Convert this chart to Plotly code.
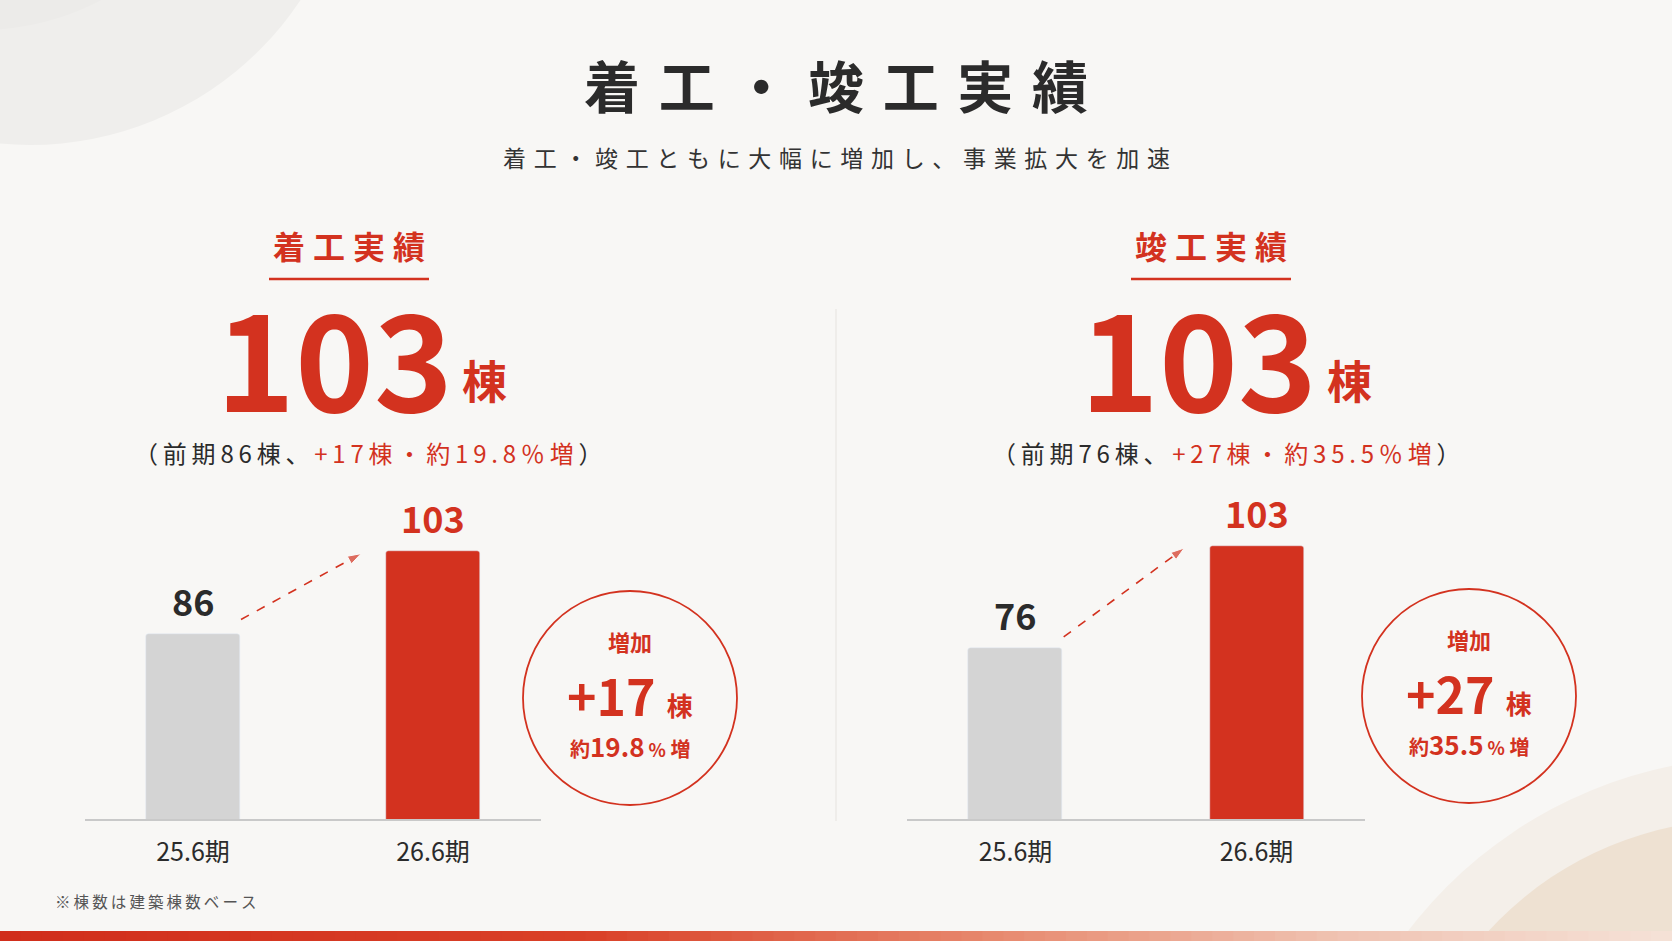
import numpy as np
import plotly.graph_objects as go

W, H = 1672, 941

# --- data ---
periods = ["25.6期", "26.6期"]
panel_titles = ["着工実績", "竣工実績"]
prev_counts = [86, 76]
curr_counts = [103, 103]
unit = "棟"

title = "着工・竣工実績"
subtitle = "着工・竣工ともに大幅に増加し、事業拡大を加速"
footnote = "※棟数は建築棟数ベース"

RED = "#d3321f"
GRAY_BAR = "#d4d4d4"
DARK = "#2b2b2b"
BG = "#f8f7f5"
FONT = "Noto Sans CJK JP"


def px(x, y):
    # pixel position -> paper coords
    return x / W, 1 - y / H


def spaced(s, sp="\u2005"):
    return sp.join(s)


def note(text, x, y, size, color, **kw):
    # centred text at a pixel position
    px_, py_ = px(x, y)
    d = dict(text=text, x=px_, y=py_, xref="paper", yref="paper", showarrow=False,
             xanchor="center", yanchor="middle",
             font=dict(size=size, color=color, family=FONT))
    if "weight" in kw:
        d["font"]["weight"] = kw.pop("weight")
    d.update(kw)
    return d


# where each panel sits on the page (pixels)
geo = [
    dict(x0=85, x1=541, head=349, big=334, bigu=485, sub=368, circ=(630, 698), yr=(48.1, 125.8)),
    dict(x0=907, x1=1365, head=1211, big=1198, bigu=1349, sub=1226, circ=(1469, 696), yr=(30.8, 131.1)),
]
ydom = [1 - 819 / H, 1 - 440 / H]

fig = go.Figure()
shapes = []
annos = []

# background blobs
def circ_shape(cx, cy, r, fill, line=None):
    x0, y0 = px(cx - r, cy + r)
    x1, y1 = px(cx + r, cy - r)
    return dict(type="circle", xref="paper", yref="paper", x0=x0, y0=y0, x1=x1, y1=y1,
                fillcolor=fill, line=line or dict(width=0), layer="below")

shapes.append(circ_shape(30, -180, 325, "#efeeec"))
shapes.append(circ_shape(-20, -230, 260, "#ecebe9"))
shapes.append(circ_shape(1760, 1200, 443, "#f4efe9"))
shapes.append(circ_shape(1740, 1160, 340, "#eee1d2"))

# bottom gradient band
stops = [(0, (209, 46, 28)), (0.35, (218, 65, 40)), (0.6, (232, 139, 112)),
         (0.8, (240, 195, 178)), (1, (246, 226, 216))]
n_seg = 80
for i in range(n_seg):
    t = (i + 0.5) / n_seg
    for (a, ca), (b, cb) in zip(stops[:-1], stops[1:]):
        if a <= t <= b:
            f = (t - a) / (b - a)
            c = tuple(int(ca[k] + (cb[k] - ca[k]) * f) for k in range(3))
            break
    x0, y0 = px(W * i / n_seg, 941)
    x1, y1 = px(W * (i + 1) / n_seg + 1, 931)
    shapes.append(dict(type="rect", xref="paper", yref="paper", x0=x0, x1=x1, y0=y0, y1=y1,
                       fillcolor="rgb(%d,%d,%d)" % c, line=dict(width=0), layer="below"))

# divider
dx, dy0 = px(836, 309)
_, dy1 = px(836, 821)
shapes.append(dict(type="line", xref="paper", yref="paper", x0=dx, x1=dx, y0=dy0, y1=dy1,
                   line=dict(color="#e6e3df", width=1)))

# headings
annos.append(note("<b>" + spaced(title, "\u2004") + "</b>", 836, 83, 56, DARK))
annos.append(note(spaced(subtitle, "\u2004"), 836, 157, 23, "#333333"))
annos.append(note(spaced(footnote, "\u2009"), 53, 901, 15.5, "#555555", xanchor="left"))

for i, g in enumerate(geo):
    prev, cur = prev_counts[i], curr_counts[i]
    diff = cur - prev
    pct = diff / prev * 100
    xa = "x" if i == 0 else "x%d" % (i + 1)
    ya = "y" if i == 0 else "y%d" % (i + 1)
    xpos = list(range(len(periods)))

    fig.add_trace(go.Bar(x=xpos, y=[prev, cur], xaxis=xa, yaxis=ya, width=0.39,
                         marker=dict(color=[GRAY_BAR, RED], cornerradius=3),
                         hoverinfo="skip", showlegend=False))
    # dashed arrow
    fig.add_trace(go.Scatter(x=[0.2, 0.7], y=[prev + 3, cur - 0.5], xaxis=xa, yaxis=ya,
                             mode="lines+markers", hoverinfo="skip", showlegend=False,
                             line=dict(color=RED, width=1.6, dash="dash"),
                             marker=dict(symbol=["circle", "arrow"], size=[0, 14],
                                         angleref="previous", color=RED)))

    lay_x = dict(domain=[g["x0"] / W, g["x1"] / W], range=[-0.45, 1.45],
                 tickvals=xpos, ticktext=periods, showline=True, linecolor="#c9c9c9",
                 linewidth=2, showgrid=False, zeroline=False, ticks="",
                 ticklabelstandoff=10, tickfont=dict(size=25, color=DARK, family=FONT),
                 fixedrange=True, anchor=ya)
    lay_y = dict(domain=ydom, range=list(g["yr"]), visible=False, fixedrange=True, anchor=xa)
    fig.update_layout({("xaxis" if i == 0 else "xaxis%d" % (i + 1)): lay_x,
                       ("yaxis" if i == 0 else "yaxis%d" % (i + 1)): lay_y})

    # value labels
    for j, v in enumerate([prev, cur]):
        annos.append(dict(text="<b>%d</b>" % v, x=j, y=v, xref=xa, yref=ya, yanchor="bottom",
                          xanchor="center", yshift=6, showarrow=False,
                          font=dict(size=36, color=DARK if j == 0 else RED, family=FONT)))

    # panel title + underline
    annos.append(note("<b>" + spaced(panel_titles[i]) + "</b>", g["head"], 245, 32, RED))
    ux0, uy = px(g["head"] - 80, 279)
    ux1, _ = px(g["head"] + 80, 279)
    shapes.append(dict(type="line", xref="paper", yref="paper", x0=ux0, x1=ux1, y0=uy, y1=uy,
                       line=dict(color=RED, width=2.5)))

    # big number + unit
    annos.append(note("%d" % cur, g["big"], 354, 134, RED, weight=600))
    annos.append(note("<b>%s</b>" % unit, g["bigu"], 379, 45, RED))

    # sub line
    red_part = spaced("+%d%s・約%.1f％増" % (diff, unit, pct), "\u2009")
    annos.append(note(spaced("（前期%d%s、" % (prev, unit), "\u2009") + "\u2009"
                      + "<span style='color:%s'>%s</span>" % (RED, red_part) + "\u2009）",
                      g["sub"], 452, 24, DARK))

    # circle badge
    cx, cy = g["circ"]
    shapes.append(circ_shape(cx, cy, 107, "rgba(0,0,0,0)", dict(color=RED, width=1.8)))
    shapes[-1]["layer"] = "above"
    annos.append(note("<b>増加</b>", cx, cy - 57, 22, RED))
    annos.append(note("<b>+%d <span style='font-size:26px'>%s</span></b>" % (diff, unit),
                      cx, cy - 4, 50, RED))
    annos.append(note("<b>約<span style='font-size:26px'>%.1f</span>"
                      "<span style='font-size:18px'> %%</span> 増</b>" % pct,
                      cx, cy + 47, 20, RED))

fig.update_layout(width=W, height=H, margin=dict(l=0, r=0, t=0, b=0),
                  paper_bgcolor=BG, plot_bgcolor="rgba(0,0,0,0)",
                  font=dict(family=FONT), shapes=shapes, annotations=annos,
                  bargap=0, showlegend=False)

fig.write_html("out.html", config={"displayModeBar": False},
               post_script="document.body.style.margin='0';")
